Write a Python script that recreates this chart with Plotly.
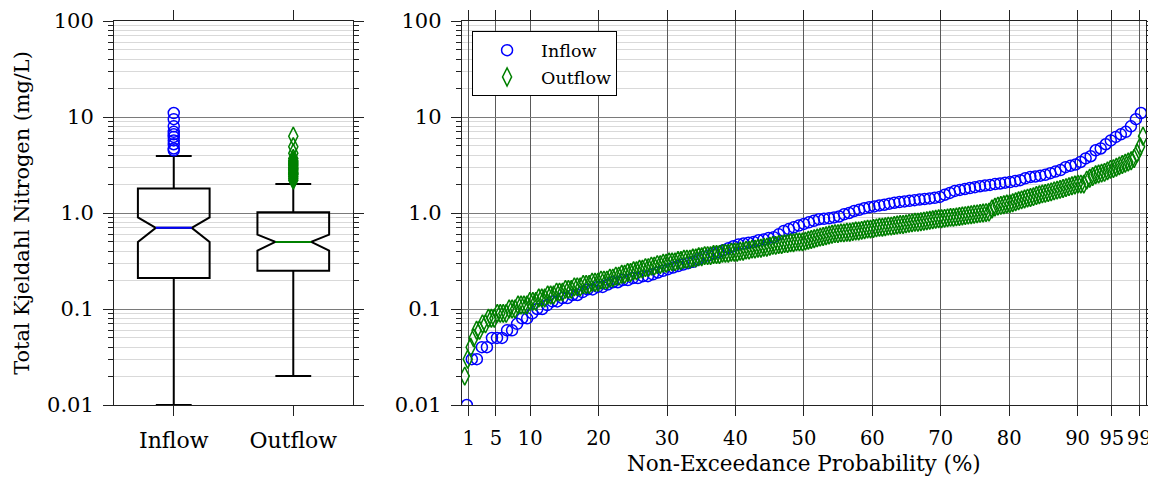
import plotly.graph_objects as go

# ---------------- data ----------------
groups = ["Inflow", "Outflow"]

inflow_tkn = [
    0.01, 0.03, 0.03, 0.04, 0.04, 0.05, 0.05, 0.05, 0.06, 0.06,
    0.07, 0.08, 0.08, 0.09, 0.10, 0.10, 0.11, 0.12, 0.12, 0.13,
    0.13, 0.14, 0.14, 0.15, 0.16, 0.16, 0.17, 0.17, 0.18, 0.19,
    0.19, 0.20, 0.20, 0.21, 0.21, 0.22, 0.22, 0.23, 0.24, 0.25,
    0.26, 0.27, 0.28, 0.29, 0.30, 0.31, 0.33, 0.35, 0.36, 0.38,
    0.39, 0.41, 0.43, 0.45, 0.47, 0.48, 0.49, 0.50, 0.52, 0.53,
    0.55, 0.56, 0.60, 0.65, 0.68, 0.71, 0.74, 0.77, 0.80, 0.83,
    0.86, 0.87, 0.88, 0.90, 0.92, 0.97, 1.00, 1.05, 1.08, 1.12,
    1.15, 1.17, 1.20, 1.22, 1.25, 1.28, 1.30, 1.32, 1.34, 1.36,
    1.38, 1.40, 1.42, 1.44, 1.47, 1.55, 1.62, 1.70, 1.74, 1.78,
    1.82, 1.86, 1.90, 1.93, 1.96, 2.00, 2.03, 2.07, 2.10, 2.15,
    2.20, 2.30, 2.37, 2.40, 2.45, 2.50, 2.60, 2.70, 2.80, 3.00,
    3.10, 3.20, 3.40, 3.70, 3.90, 4.50, 4.70, 5.20, 5.70, 6.20,
    6.60, 7.00, 8.00, 9.50, 11.0,
]

outflow_tkn = [
    0.02, 0.03, 0.04, 0.05, 0.06, 0.06, 0.07, 0.07, 0.08, 0.08,
    0.08, 0.09, 0.09, 0.09, 0.09, 0.10, 0.10, 0.10, 0.11, 0.11,
    0.11, 0.11, 0.12, 0.12, 0.12, 0.13, 0.13, 0.13, 0.14, 0.14,
    0.14, 0.15, 0.15, 0.15, 0.16, 0.16, 0.16, 0.17, 0.17, 0.17,
    0.18, 0.18, 0.18, 0.19, 0.19, 0.19, 0.20, 0.20, 0.20, 0.21,
    0.21, 0.22, 0.22, 0.23, 0.23, 0.24, 0.24, 0.25, 0.25, 0.26,
    0.26, 0.27, 0.27, 0.28, 0.28, 0.29, 0.29, 0.30, 0.30, 0.31,
    0.31, 0.31, 0.32, 0.32, 0.33, 0.33, 0.33, 0.34, 0.34, 0.35,
    0.35, 0.36, 0.36, 0.36, 0.37, 0.37, 0.37, 0.38, 0.38, 0.38,
    0.39, 0.39, 0.39, 0.40, 0.40, 0.41, 0.41, 0.42, 0.42, 0.43,
    0.43, 0.44, 0.44, 0.45, 0.46, 0.46, 0.47, 0.47, 0.48, 0.48,
    0.49, 0.49, 0.50, 0.50, 0.50, 0.51, 0.52, 0.53, 0.54, 0.55,
    0.56, 0.57, 0.58, 0.59, 0.60, 0.61, 0.61, 0.62, 0.62, 0.63,
    0.63, 0.64, 0.65, 0.65, 0.66, 0.67, 0.68, 0.68, 0.69, 0.70,
    0.71, 0.71, 0.72, 0.73, 0.73, 0.74, 0.75, 0.76, 0.76, 0.77,
    0.78, 0.79, 0.80, 0.80, 0.81, 0.82, 0.83, 0.84, 0.85, 0.86,
    0.87, 0.87, 0.88, 0.89, 0.90, 0.90, 0.91, 0.92, 0.93, 0.94,
    0.95, 0.96, 0.97, 0.98, 0.99, 1.00, 1.01, 1.02, 1.10, 1.15,
    1.18, 1.20, 1.22, 1.24, 1.25, 1.28, 1.31, 1.34, 1.37, 1.40,
    1.43, 1.45, 1.48, 1.52, 1.55, 1.58, 1.60, 1.63, 1.66, 1.70,
    1.73, 1.76, 1.80, 1.84, 1.88, 1.92, 1.96, 2.00, 2.00, 2.00,
    2.20, 2.30, 2.40, 2.50, 2.55, 2.60, 2.65, 2.75, 2.85, 2.90,
    3.00, 3.10, 3.20, 3.30, 3.40, 3.50, 3.70, 4.20, 4.90, 6.30,
]

# box-plot statistics
box_q1 = [0.21, 0.25]
box_median = [0.70, 0.50]
box_q3 = [1.80, 1.02]
box_lower = [0.01, 0.02]
box_upper = [3.92, 2.00]
box_notchspan = [0.20, 0.095]

prob_ticks = [1, 5, 10, 20, 30, 40, 50, 60, 70, 80, 90, 95, 99]
y_ticks = [0.01, 0.1, 1, 10, 100]
y_ticktext = ["0.01", "0.1", "1.0", "10", "100"]
y_minor = [m * 10.0 ** e for e in range(-2, 2) for m in range(2, 10)]

colors = {"Inflow": "#0000ff", "Outflow": "#008000"}
symbols = {"Inflow": "circle-open", "Outflow": "diamond-tall-open"}
sizes = {"Inflow": 11, "Outflow": 13}
series = {"Inflow": inflow_tkn, "Outflow": outflow_tkn}


def plot_positions(values):
    """Weibull plotting positions (percent) of the sorted sample."""
    n = len(values)
    return [100.0 * (i + 1) / (n + 1) for i in range(n)]


FONT = "DejaVu Serif"
OFF = 8                      # page body margin of the browser
W, H = 1156 - OFF, 483 - OFF
ML = 114 - OFF
MT = 20.7 - OFF
MB = H - (404.7 - OFF)
MR = W - (1145.8 - OFF)
PW = W - ML - MR
PH = H - MT - MB

fig = go.Figure()

# ---------------- left panel: notched boxes ----------------
for k, g in enumerate(groups):
    fig.add_trace(go.Box(
        x=[g], q1=[box_q1[k]], median=[box_median[k]], q3=[box_q3[k]],
        lowerfence=[box_lower[k]], upperfence=[box_upper[k]],
        notched=True, notchspan=[box_notchspan[k]], notchwidth=0.25,
        width=0.6, whiskerwidth=0.5, boxpoints=False,
        line=dict(color="black", width=2), fillcolor="rgba(0,0,0,0)",
        showlegend=False, hoverinfo="skip", xaxis="x", yaxis="y",
    ))
    # coloured median segment
    fig.add_trace(go.Box(
        x=[g], q1=[box_median[k]], median=[box_median[k]], q3=[box_median[k]],
        lowerfence=[box_median[k]], upperfence=[box_median[k]],
        width=0.3, whiskerwidth=0, boxpoints=False,
        line=dict(color=colors[g], width=2), fillcolor="rgba(0,0,0,0)",
        showlegend=False, hoverinfo="skip", xaxis="x", yaxis="y",
    ))
    outl = [v for v in series[g] if v > box_upper[k]]
    fig.add_trace(go.Scatter(
        x=[g] * len(outl), y=outl, mode="markers",
        marker=dict(symbol=symbols[g], size=sizes[g], color=colors[g],
                    line=dict(color=colors[g], width=1.5)),
        showlegend=False, hoverinfo="skip", xaxis="x", yaxis="y",
    ))

# ---------------- right panel: probability plot ----------------
for g in groups:
    vals = sorted(series[g])
    fig.add_trace(go.Scatter(
        x=plot_positions(vals), y=vals, mode="markers", name=g,
        marker=dict(symbol=symbols[g], size=sizes[g], color=colors[g],
                    line=dict(color=colors[g], width=1.5)),
        legendgroup=g, xaxis="x2", yaxis="y2",
    ))

yaxis_common = dict(
    type="log", range=[-2, 2], domain=[0, 1],
    tickmode="array", tickvals=y_ticks, ticktext=y_ticktext,
    ticks="outside", ticklen=10, tickwidth=1, tickcolor="#222",
    showline=True, linecolor="#222", linewidth=1, mirror="allticks",
    showgrid=True, gridcolor="#7a7a7a", gridwidth=1, zeroline=False,
    ticklabelstandoff=5, automargin=False,
    tickfont=dict(family=FONT, size=21, color="black"),
    minor=dict(tickmode="array", tickvals=y_minor, ticks="outside",
               ticklen=5, tickcolor="#222", showgrid=True,
               gridcolor="#d9d9d9", gridwidth=1),
)

fig.update_layout(
    width=W, height=H, margin=dict(l=ML, r=MR, t=MT, b=MB, autoexpand=False),
    paper_bgcolor="white", plot_bgcolor="white",
    boxmode="overlay",
    font=dict(family=FONT, size=21, color="black"),
    xaxis=dict(
        domain=[0, (353 - 114) / PW], type="category",
        categoryorder="array", categoryarray=groups, range=[-0.5, 1.5],
        ticks="outside", ticklen=10, tickcolor="#222", tickangle=0,
        showline=True, linecolor="#222", linewidth=1, mirror="allticks",
        showgrid=False, zeroline=False, ticklabelstandoff=6,
        automargin=False, anchor="y",
        tickfont=dict(family=FONT, size=22, color="black"),
    ),
    yaxis=dict(
        **yaxis_common, anchor="x",
        title=dict(text="Total Kjeldahl Nitrogen (mg/L)", standoff=11,
                   font=dict(family=FONT, size=20.8, color="black")),
    ),
    xaxis2=dict(
        domain=[(461.7 - 114) / PW, 1.0], range=[0, 100],
        tickmode="array", tickvals=prob_ticks,
        ticktext=[str(t) for t in prob_ticks], tickangle=0,
        ticks="outside", ticklen=10, tickcolor="#222",
        showline=True, linecolor="#222", linewidth=1, mirror="allticks",
        showgrid=True, gridcolor="#5a5a5a", gridwidth=1, zeroline=False,
        ticklabelstandoff=6, anchor="y2", automargin=False,
        tickfont=dict(family=FONT, size=19.5, color="black"),
        title=dict(text="Non-Exceedance Probability (%)", standoff=6,
                   font=dict(family=FONT, size=21.5, color="black")),
    ),
    yaxis2=dict(**yaxis_common, anchor="x2"),
    legend=dict(
        x=(472 - 114) / PW, y=1 - (31 - 20.7) / PH,
        xanchor="left", yanchor="top",
        bgcolor="white", bordercolor="black", borderwidth=1,
        font=dict(family=FONT, size=17.5, color="black"),
        tracegroupgap=1, itemwidth=58,
    ),
)

fig.write_html("out.html")
